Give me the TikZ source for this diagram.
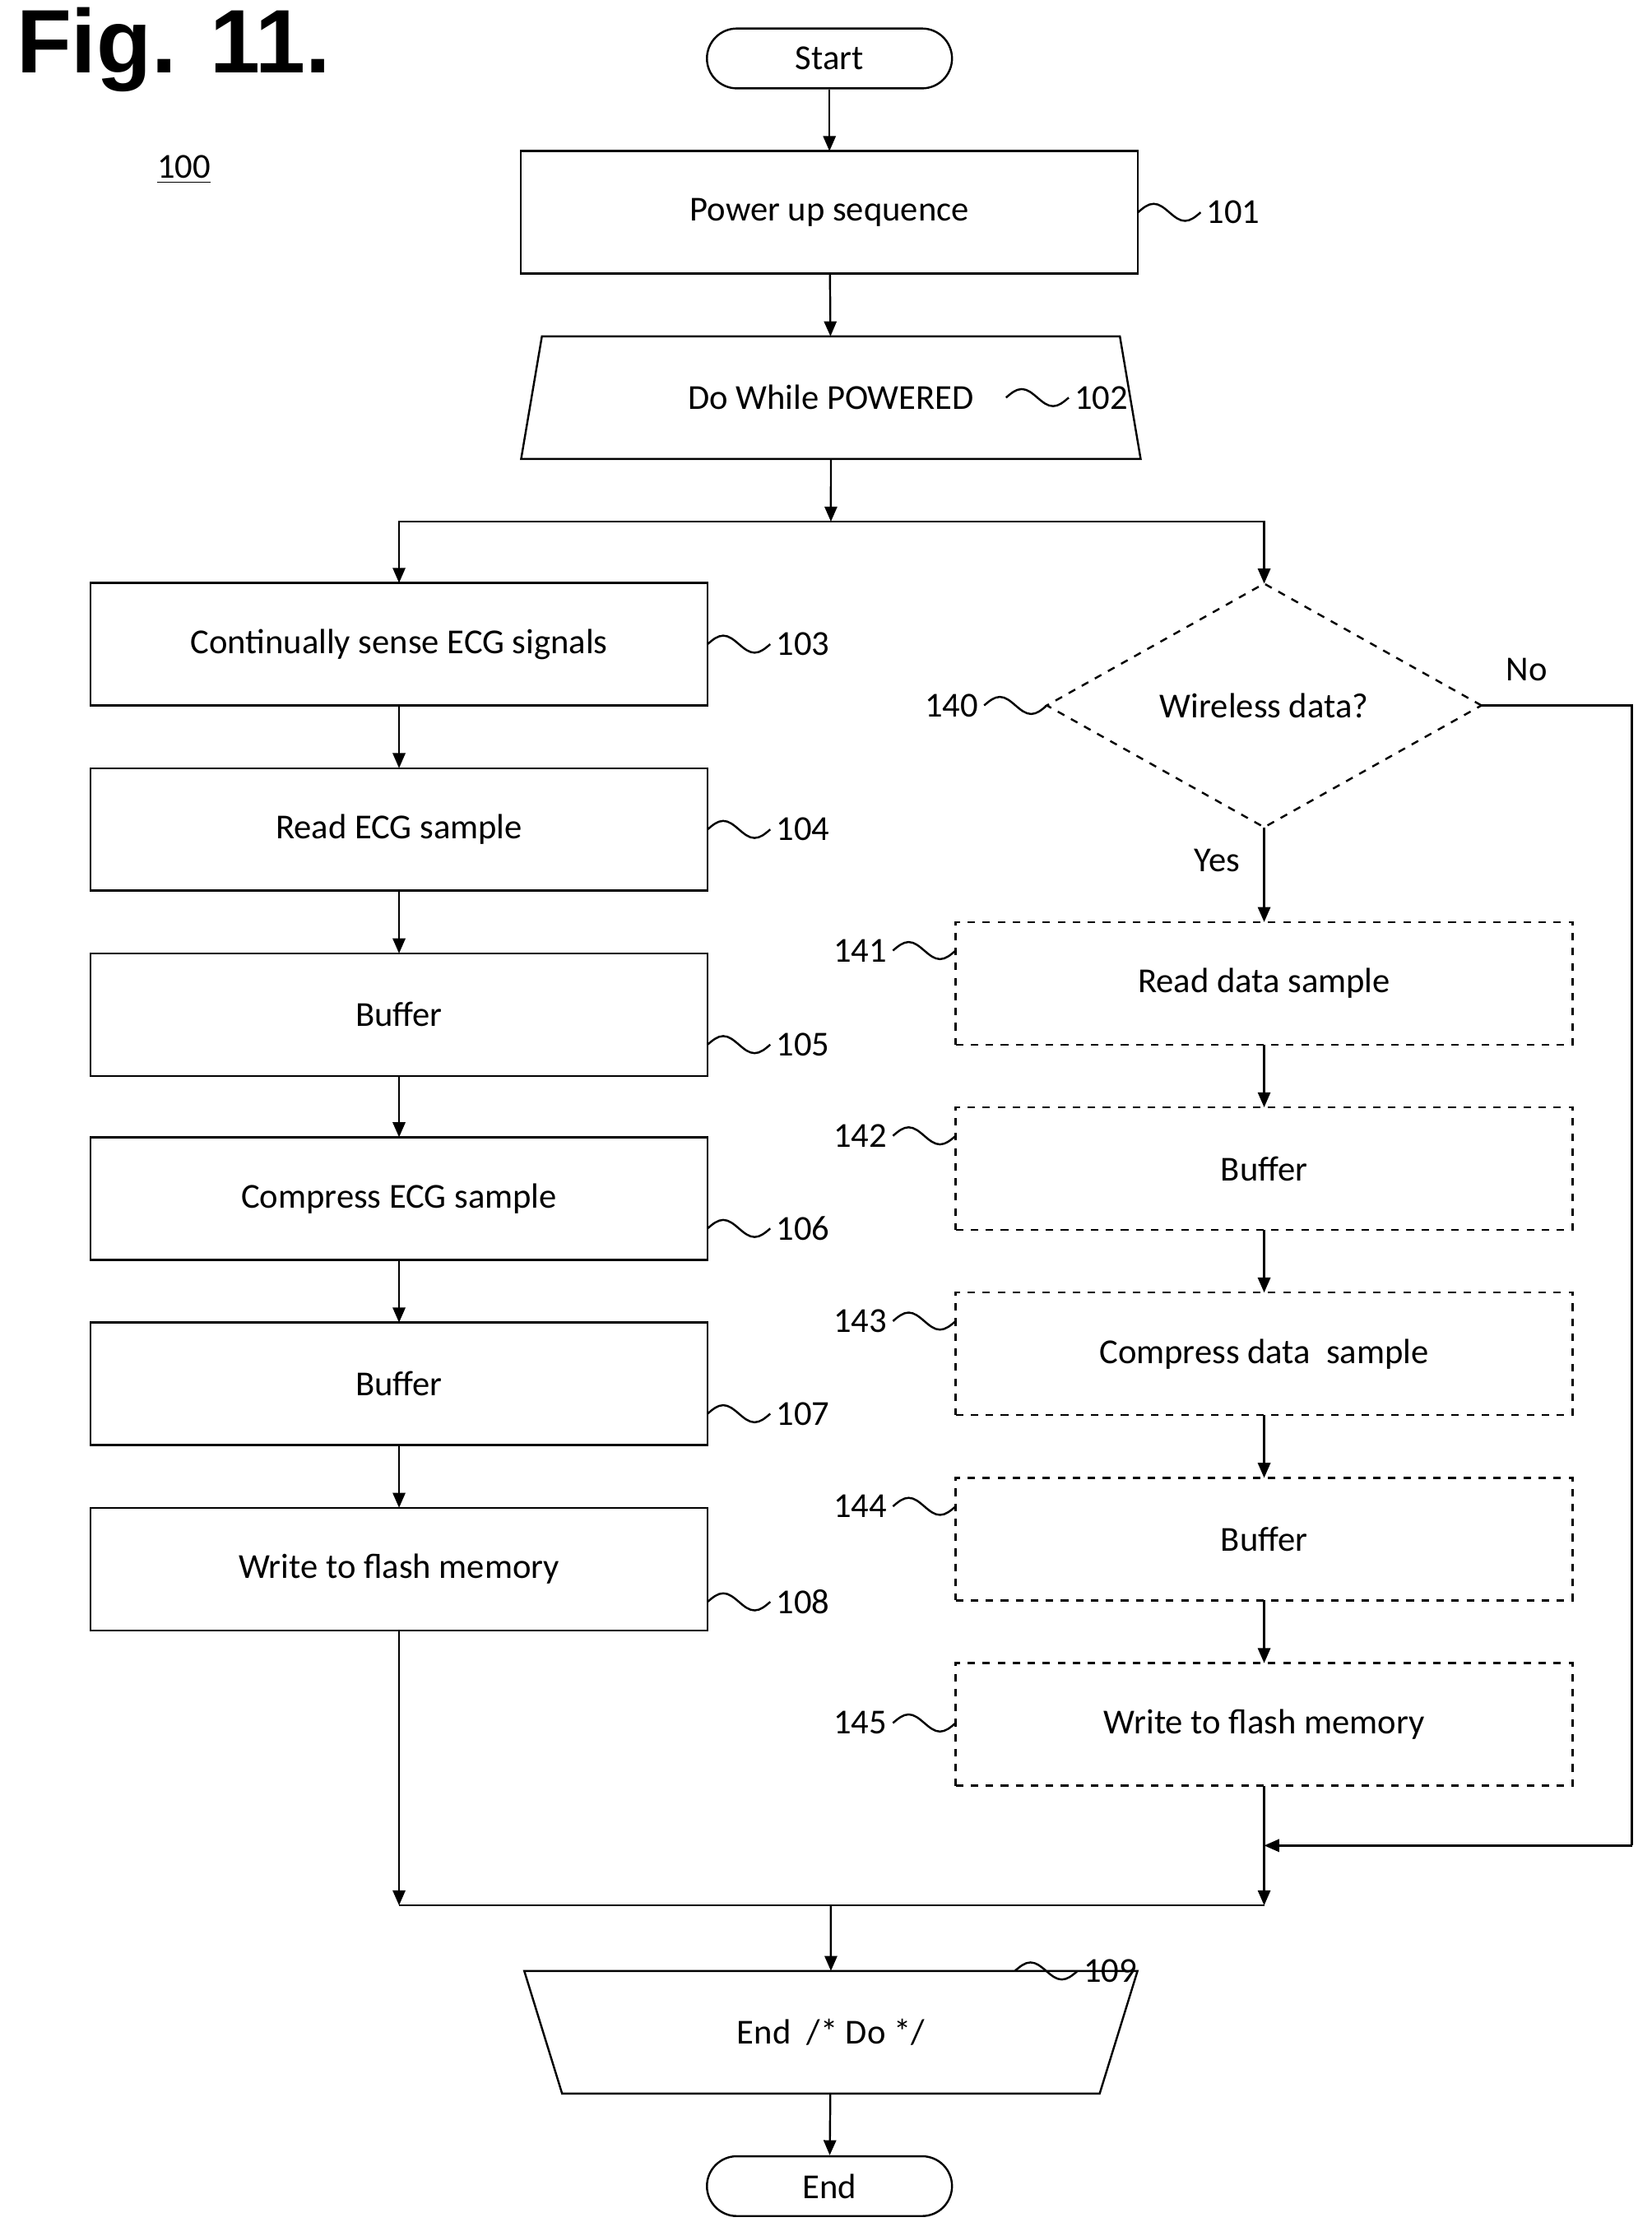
\documentclass[tikz,border=0pt]{standalone}
\usepackage{fontspec}
\setmainfont{Carlito}
\newfontfamily\figfont{Liberation Sans}
\usetikzlibrary{shapes.geometric,arrows.meta,calc}

\newcommand{\squig}[2]{% wavy lead from a shape to its reference number
  \draw (#1) sin ++(11,-6) cos ++(11,6) sin ++(11,6) cos ++(11,-6) node[right,inner sep=2pt] {#2};}
\newcommand{\squigl}[2]{% the same, drawn towards the left
  \draw (#1) sin ++(-11,6) cos ++(-11,-6) sin ++(-11,-6) cos ++(-11,6) node[left,inner sep=2pt] {#2};}

\begin{document}
\begin{tikzpicture}[x=0.02cm,y=-0.02cm,line width=0.8pt,
  font=\fontsize{14}{17}\selectfont]
  % Styles
  \tikzset{
    stepbox/.style={draw,minimum width=8.66cm,minimum height=1.72cm,inner sep=0pt,outer sep=0pt},
    optbox/.style={stepbox,dashed},
    term/.style={draw,rounded corners=0.42cm,minimum width=3.44cm,minimum height=0.84cm,inner sep=0pt},
    doloop/.style={draw,trapezium,trapezium stretches=true,minimum height=1.72cm,inner sep=0pt,outer sep=0pt},
    flow/.style={-{Triangle[length=6pt,width=5pt]}}
  }
  \useasboundingbox (0,0) rectangle (1159,1569);

  \node[font=\figfont\bfseries\fontsize{36}{40}\selectfont,anchor=west] at (5,35) {Fig. 11.};
  \node at (129,119) {\underline{100}};

  % Main column
  \node[term] (start) at (582,41) {Start};
  \node[stepbox] (s101) at (582,149) {Power up sequence};
  \node[doloop,minimum width=8.7cm,trapezium angle=67.3] (s102) at (583,279) {Do While POWERED};

  % Left branch
  \node[stepbox] (s103) at (280,452) {Continually sense ECG signals};
  \node[stepbox] (s104) at (280,582) {Read ECG sample};
  \node[stepbox] (s105) at (280,712) {Buffer};
  \node[stepbox] (s106) at (280,841) {Compress ECG sample};
  \node[stepbox] (s107) at (280,971) {Buffer};
  \node[stepbox] (s108) at (280,1101) {Write to flash memory};

  % Right branch
  \node[draw,dashed,diamond,aspect=1.78,minimum width=6.1cm,minimum height=3.42cm,inner sep=0pt,outer sep=0pt]
    (s140) at (887,495) {Wireless data?};
  \node[optbox] (s141) at (887,690) {Read data sample};
  \node[optbox] (s142) at (887,820) {Buffer};
  \node[optbox] (s143) at (887,950) {Compress data\ \ sample};
  \node[optbox] (s144) at (887,1080) {Buffer};
  \node[optbox] (s145) at (887,1210) {Write to flash memory};

  \node[doloop,minimum width=8.68cm,trapezium angle=63.4,shape border rotate=180] (s109) at (583,1426) {End\ \ /* Do */};
  \node[term] (end) at (582,1534) {End};

  % Junction points
  \coordinate (split) at (583,366);
  \coordinate (join) at (583,1337);
  \coordinate (joinL) at (280,1337);
  \coordinate (joinR) at (887,1337);
  \coordinate (noC) at (1145,495);
  \coordinate (noD) at (1145,1295);
  \coordinate (noE) at (887,1295);

  % Connectors
  \draw[flow] (start) -- (s101);
  \draw[flow] (s101) -- (s102);
  \draw[flow] (s102) -- (split);
  \draw[flow] (split) -| (s103);
  \draw[flow] (split) -| (s140);
  \foreach \a/\b in {s103/s104,s104/s105,s105/s106,s106/s107,s107/s108,
                     s141/s142,s142/s143,s143/s144,s144/s145}
    \draw[flow] (\a) -- (\b);
  \draw[flow] (s140) -- node[pos=0.35,left=6pt] {Yes} (s141);
  \draw (s140.east) -- node[pos=0.3,above=6pt] {No} (noC) -- (noD);
  \draw[flow] (noD) -- (noE);
  \draw[flow] (s108) -- (joinL);
  \draw[flow] (s145) -- (joinR);
  \draw (joinL) -- (joinR);
  \draw[flow] (join) -- (s109);
  \draw[flow] (s109) -- (end);

  % Reference numbers
  \squig{s101.east}{101}
  \squig{$(s102.south east)!0.5!(s102.top right corner)$}{102}
  \squig{s103.east}{103}
  \squig{s104.east}{104}
  \squig{$(s105.east)+(0,21)$}{105}
  \squig{$(s106.east)+(0,21)$}{106}
  \squig{$(s107.east)+(0,21)$}{107}
  \squig{$(s108.east)+(0,23)$}{108}
  \squig{$(s109.north east)!0.5!(s109.bottom left corner)$}{109}
  \squigl{s140.west}{140}
  \squigl{$(s141.north west)+(0,20)$}{141}
  \squigl{$(s142.north west)+(0,20)$}{142}
  \squigl{$(s143.north west)+(0,20)$}{143}
  \squigl{$(s144.north west)+(0,20)$}{144}
  \squigl{$(s145.north west)+(0,42)$}{145}
\end{tikzpicture}
\end{document}
